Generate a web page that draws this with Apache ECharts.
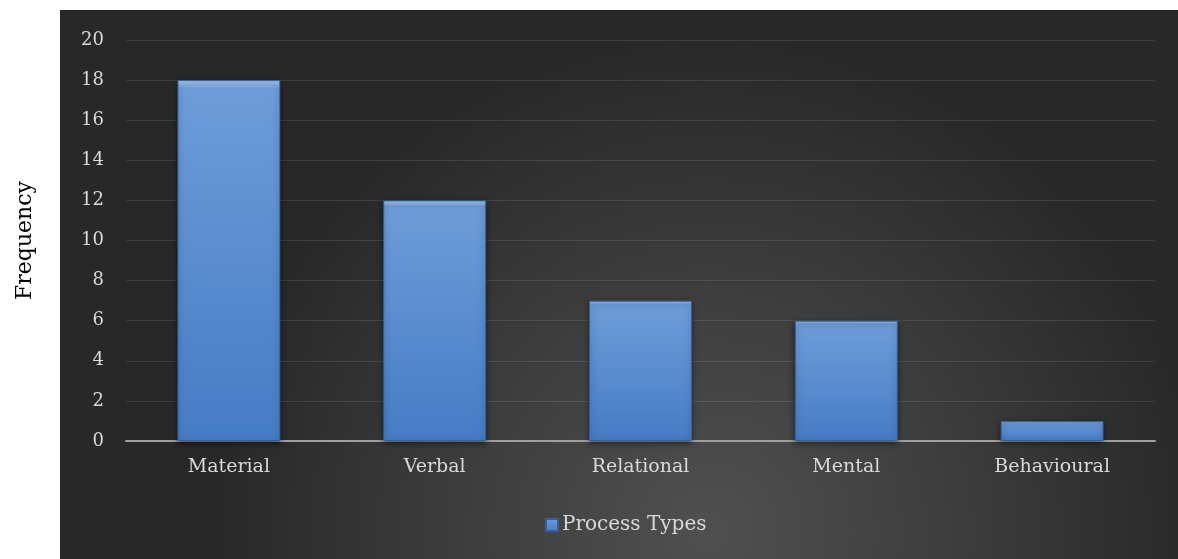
<!DOCTYPE html>
<html><head><meta charset="utf-8">
<script src="https://cdn.jsdelivr.net/npm/echarts@6/dist/echarts.min.js"></script>
<style>html,body{margin:0;padding:0;background:#fff}#c{width:1178px;height:559px}</style>
</head><body><div id="c"></div>
<script>
const categories = ['Material', 'Verbal', 'Relational', 'Mental', 'Behavioural'];
const values = [18, 12, 7, 6, 1];
const seriesName = 'Process Types';
const yAxisTitle = 'Frequency';

const chart = echarts.init(document.getElementById('c'));
const serif = "'DejaVu Serif', 'Liberation Serif', serif";
chart.setOption({
  animation: false,
  backgroundColor: '#ffffff',
  graphic: [{
    type: 'rect', z: -10, silent: true,
    shape: { x: 60, y: 10, width: 1118, height: 549 },
    style: { fill: new echarts.graphic.RadialGradient(0.58, 0.95, 0.9, [
      { offset: 0, color: '#505050' },
      { offset: 0.5, color: '#3d3d3d' },
      { offset: 1, color: '#282828' }
    ]) }
  }],
  grid: { left: 126, right: 23, top: 40, bottom: 118, containLabel: false },
  legend: {
    top: 510, left: 540,
    itemWidth: 12, itemHeight: 12, itemGap: 4,
    icon: 'rect',
    textStyle: { color: '#d9d9d9', fontFamily: serif, fontSize: 20, padding: [0, 0, 0, -1] },
    data: [seriesName]
  },
  xAxis: {
    type: 'category', data: categories,
    axisLine: { lineStyle: { color: '#a0a0a0', width: 2 } },
    axisTick: { show: false },
    axisLabel: { color: '#d9d9d9', fontFamily: serif, fontSize: 19, margin: 17 }
  },
  yAxis: {
    type: 'value', min: 0, max: 20, interval: 2,
    name: yAxisTitle, nameLocation: 'middle', nameGap: 90, nameRotate: 90,
    nameTextStyle: { color: '#000', fontFamily: serif, fontSize: 22 },
    axisLine: { show: false }, axisTick: { show: false },
    axisLabel: { color: '#d9d9d9', fontFamily: serif, fontSize: 18, margin: 22 },
    splitLine: { lineStyle: { color: 'rgba(255,255,255,0.1)', width: 1 } }
  },
  series: [{
    name: seriesName, type: 'bar', data: values, barWidth: '50%',
    itemStyle: {
      color: new echarts.graphic.LinearGradient(0, 0, 0, 1, [
        { offset: 0, color: '#a8cbf4' },
        { offset: 0.025, color: '#6d9cd8' },
        { offset: 1, color: '#467cc6' }
      ]),
      borderColor: '#36609c', borderWidth: 1,
      shadowColor: 'rgba(0,0,0,0.5)', shadowBlur: 6, shadowOffsetY: 2
    }
  }]
});
</script></body></html>
